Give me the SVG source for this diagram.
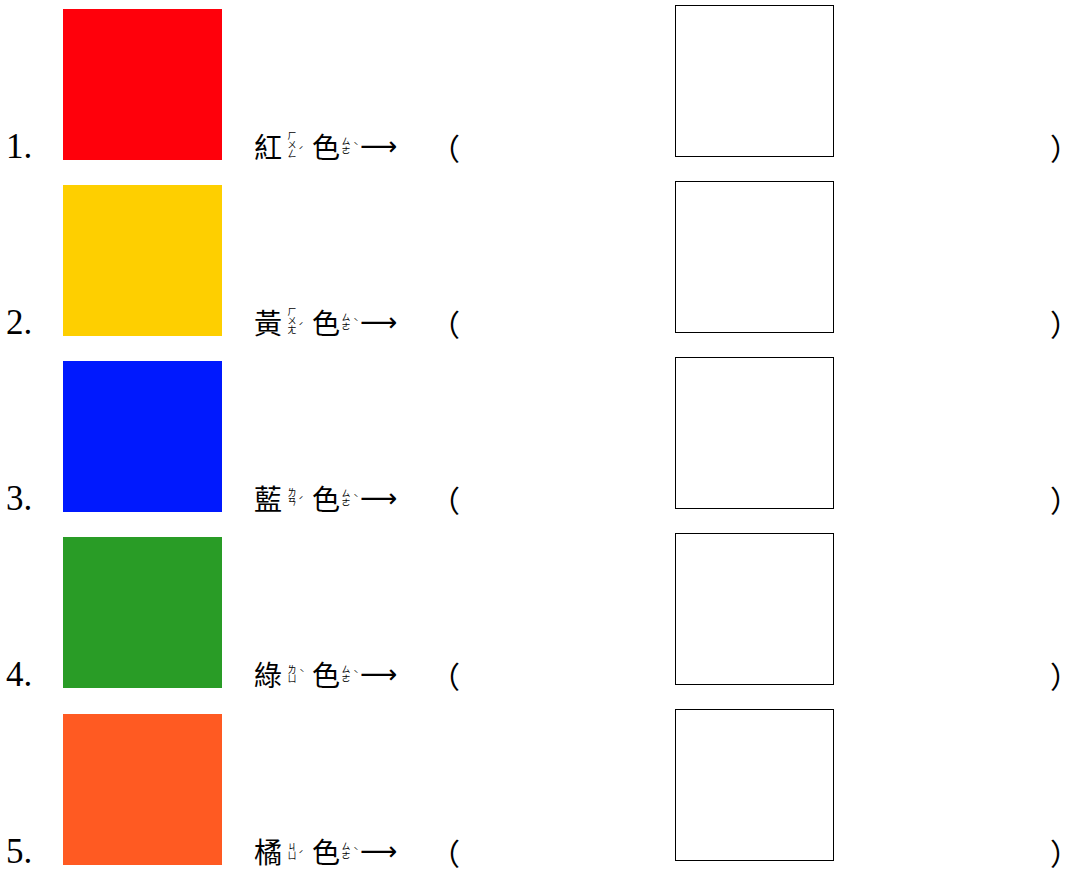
<svg xmlns="http://www.w3.org/2000/svg" width="1069" height="870" viewBox="0 0 1069 870">
<style>
.num{font-family:"Liberation Serif",serif;font-size:35px;fill:#000}
.zh{font-family:"Noto Sans CJK TC","Noto Sans CJK SC",sans-serif;font-size:28px;fill:#000}
.bv{font-family:"Noto Sans CJK TC","Noto Sans CJK SC",sans-serif;font-size:9px;fill:#000;writing-mode:vertical-rl}
.bt{font-family:"Noto Sans CJK TC","Noto Sans CJK SC",sans-serif;font-size:9px;fill:#000;text-anchor:middle}
.arr{font-family:"DejaVu Sans",sans-serif;font-size:26px;fill:#000}
.par{font-family:"Noto Sans CJK TC","Noto Sans CJK SC",sans-serif;font-size:30px;fill:#000}
.box{fill:#fff;stroke:#000;stroke-width:1}
</style>
<rect width="1069" height="870" fill="#fff"/>
<defs>
<g id="tail">
<text class="zh" x="312" y="158">色</text>
<text class="bv" x="346" y="137">ㄙㄜ</text>
<text class="bt" x="356" y="150">ˋ</text>
<text class="arr" x="360" y="155">⟶</text>
<text class="par" x="430" y="160">（</text>
<text class="par" x="1050" y="160">）</text>
</g>
</defs>
<g id="row1">
<text class="num" x="6" y="158">1.</text>
<rect x="63" y="9" width="159" height="151" fill="#ff000b"/>
<text class="zh" x="254" y="158">紅</text>
<text class="bv" x="292" y="131">ㄏㄨㄥ</text>
<text class="bt" x="301" y="154">ˊ</text>
<use href="#tail"/>
<rect class="box" x="675.5" y="5.5" width="158" height="151"/>
</g>
<g id="row2" transform="translate(0,176)">
<text class="num" x="6" y="158">2.</text>
<rect x="63" y="9" width="159" height="151" fill="#fecf00"/>
<text class="zh" x="254" y="158">黃</text>
<text class="bv" x="292" y="131">ㄏㄨㄤ</text>
<text class="bt" x="301" y="154">ˊ</text>
<use href="#tail"/>
<rect class="box" x="675.5" y="5.5" width="158" height="151"/>
</g>
<g id="row3" transform="translate(0,352)">
<text class="num" x="6" y="158">3.</text>
<rect x="63" y="9" width="159" height="151" fill="#0019fe"/>
<text class="zh" x="254" y="158">藍</text>
<text class="bv" x="292" y="136">ㄌㄢ</text>
<text class="bt" x="301" y="152">ˊ</text>
<use href="#tail"/>
<rect class="box" x="675.5" y="5.5" width="158" height="151"/>
</g>
<g id="row4" transform="translate(0,528)">
<text class="num" x="6" y="158">4.</text>
<rect x="63" y="9" width="159" height="151" fill="#299c26"/>
<text class="zh" x="254" y="158">綠</text>
<text class="bv" x="292" y="137">ㄌㄩ</text>
<text class="bt" x="302" y="149">ˋ</text>
<use href="#tail"/>
<rect class="box" x="675.5" y="5.5" width="158" height="151"/>
</g>
<g id="row5" transform="translate(0,705)">
<text class="num" x="6" y="158">5.</text>
<rect x="63" y="9" width="159" height="151" fill="#ff5a22"/>
<text class="zh" x="254" y="158">橘</text>
<text class="bv" x="292" y="137">ㄐㄩ</text>
<text class="bt" x="301" y="153">ˊ</text>
<use href="#tail"/>
<rect class="box" x="675.5" y="4.5" width="158" height="151"/>
</g>
</svg>
